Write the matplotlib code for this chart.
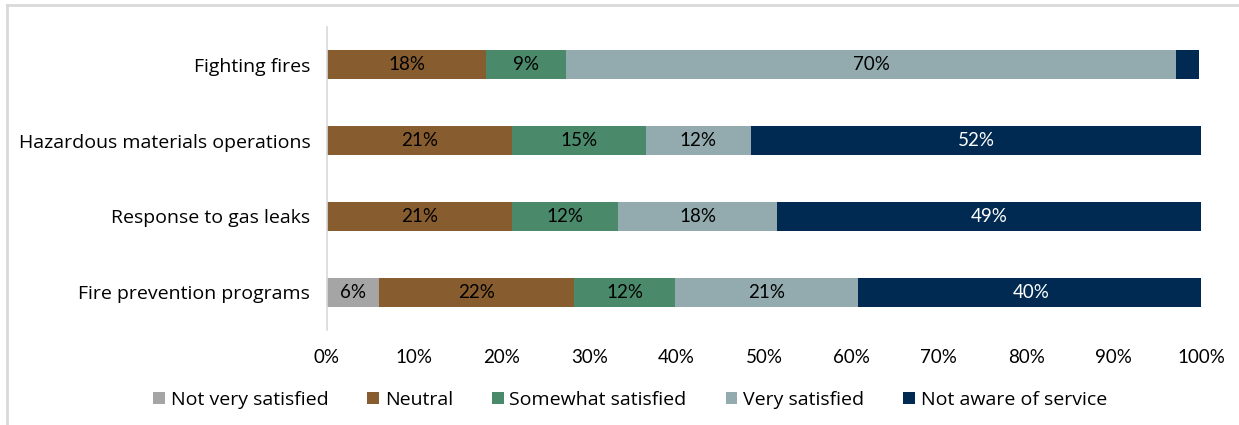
import numpy as np
import matplotlib.pyplot as plt
from matplotlib.patches import Patch
from matplotlib.lines import Line2D

## Data (percent of respondents)
categories = ['Fighting fires', 'Hazardous materials operations',
              'Response to gas leaks', 'Fire prevention programs']
series = ['Not very satisfied', 'Neutral', 'Somewhat satisfied',
          'Very satisfied', 'Not aware of service']
not_very = [0.0, 0.0, 0.0, 6.0]
neutral = [18.2, 21.2, 21.2, 22.3]
somewhat = [9.2, 15.3, 12.1, 11.5]
very = [69.7, 12.0, 18.2, 21.0]
not_aware = [2.7, 51.5, 48.6, 39.5]
xticks = [0, 10, 20, 30, 40, 50, 60, 70, 80, 90, 100]

colors = ['#A5A5A5', '#875C2F', '#4A8A6B', '#93ABAE', '#002A52']
text_colors = ['black', 'black', 'black', 'black', 'white']

plt.rcParams['font.family'] = ['Open Sans', 'DejaVu Sans']
num_font = 'Lato'
fs = 14
fs_num = 13.5

fig = plt.figure(figsize=(12.39, 4.25), dpi=100)
ax = fig.add_axes([0.2639, 0.2235, 0.7054, 0.713])

y = np.arange(len(categories))
data = [not_very, neutral, somewhat, very, not_aware]
left = np.zeros(len(categories))
for vals, col, tcol in zip(data, colors, text_colors):
    vals = np.array(vals)
    ax.barh(y, vals, left=left, height=0.38, color=col, edgecolor='none')
    for yi, (l, v) in enumerate(zip(left, vals)):
        if v >= 4:
            ax.text(l + v / 2, yi, '%d%%' % int(v + 0.5), ha='center', va='center',
                    color=tcol, fontsize=fs_num, family=num_font)
    left += vals

ax.set_ylim(len(categories) - 0.5, -0.5)
ax.set_xlim(0, 100)
ax.set_yticks(y)
ax.set_yticklabels(categories, fontsize=fs)
ax.set_xticks(xticks)
ax.set_xticklabels(['%d%%' % t for t in xticks], fontsize=fs_num, family=num_font)
ax.tick_params(axis='both', length=0)
ax.tick_params(axis='y', pad=12)
ax.tick_params(axis='x', pad=14)
for s in ['top', 'right', 'bottom']:
    ax.spines[s].set_visible(False)
ax.spines['left'].set_color('#D9D9D9')
ax.spines['left'].set_linewidth(1.2)

handles = [Patch(facecolor=c, edgecolor='none') for c in colors]
fig.legend(handles, series, loc='center', bbox_to_anchor=(630 / 1239, 1 - 400 / 425),
           ncol=5, frameon=False, fontsize=fs, handlelength=0.6, handleheight=0.6,
           handletextpad=0.3, columnspacing=2.0)

## Chart area border (top and left edges visible)
fig.add_artist(Line2D([7 / 1239, 7 / 1239], [0, 1 - 5 / 425], transform=fig.transFigure,
                      color='#D9D9D9', linewidth=2))
fig.add_artist(Line2D([7 / 1239, 1], [1 - 5 / 425, 1 - 5 / 425], transform=fig.transFigure,
                      color='#D9D9D9', linewidth=2))

fig.savefig('out.png', dpi=100)
